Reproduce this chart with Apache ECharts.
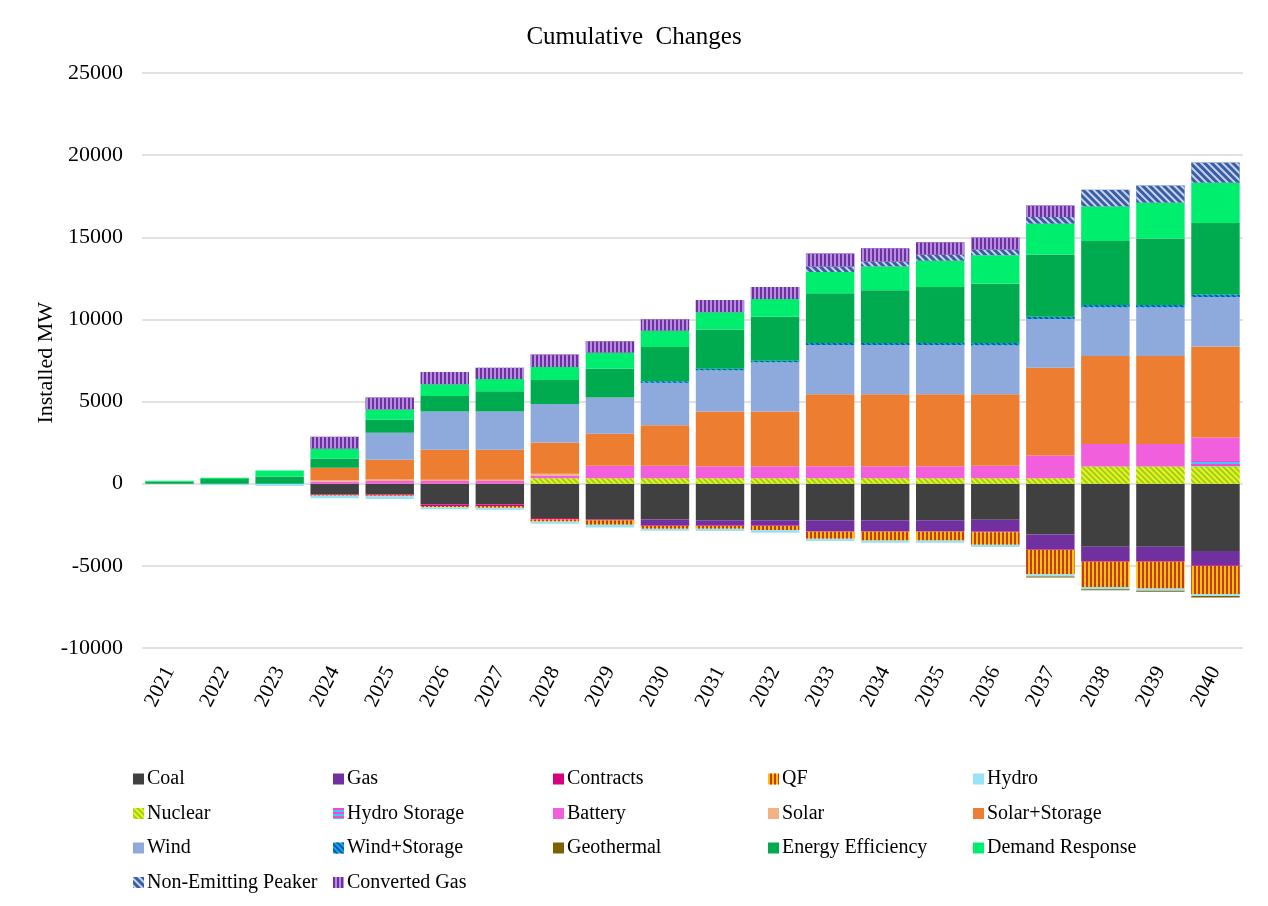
<!DOCTYPE html>
<html><head><meta charset="utf-8">
<script src="https://cdn.jsdelivr.net/npm/echarts@6/dist/echarts.min.js"></script>
<style>html,body{margin:0;padding:0;background:#fff}#c{width:1268px;height:906px}</style>
</head><body><div id="c"></div>
<script>
const years = ['2021','2022','2023','2024','2025','2026','2027','2028','2029','2030','2031','2032','2033','2034','2035','2036','2037','2038','2039','2040'];
const yTicks = [-10000, 25000, 5000];
const coal = [0,0,0,-650,-650,-1270,-1270,-2080,-2180,-2180,-2220,-2220,-2220,-2220,-2220,-2200,-3090,-3840,-3840,-4100];
const gas = [0,0,0,0,0,0,0,0,0,-360,-320,-320,-670,-670,-670,-710,-910,-870,-870,-870];
const contracts = [0,0,0,-50,-60,-80,-80,-100,-60,-40,-40,-40,-40,-40,-40,-40,-40,-40,-40,-40];
const qf = [0,0,0,-40,-60,-80,-120,-120,-260,-160,-160,-240,-420,-520,-520,-760,-1470,-1530,-1630,-1720];
const hydro = [0,-100,-140,-140,-160,-120,-120,-140,-160,-120,-140,-160,-140,-140,-140,-140,-140,-140,-140,-100];
const nuclear = [0,0,0,0,0,0,0,330,330,330,340,340,340,340,340,330,340,1050,1050,1050];
const hydroStorage = [0,0,0,0,0,0,0,0,0,0,0,0,0,0,0,0,0,0,0,340];
const battery = [0,0,0,140,160,160,160,160,770,770,730,730,730,730,730,770,1370,1370,1370,1430];
const solar = [0,0,0,80,100,80,80,120,0,0,0,0,0,0,0,0,0,0,0,0];
const solarStorage = [0,0,0,750,1200,1835,1835,1895,1935,2460,3330,3330,4380,4380,4380,4340,5350,5350,5350,5535];
const wind = [0,0,0,0,1640,2320,2320,2340,2220,2580,2500,2990,2990,2990,2990,2990,2970,2970,2970,3010];
const windStorage = [0,0,0,0,0,0,0,0,0,100,100,100,120,120,120,140,140,140,140,160];
const geothermal = [0,0,0,0,0,0,0,0,0,0,0,0,0,0,0,0,-60,-60,-60,-100];
const energyEfficiency = [140,285,445,570,810,950,1230,1470,1750,2080,2380,2670,3030,3210,3410,3600,3780,3900,4040,4350];
const demandResponse = [40,80,365,590,610,706,746,786,968,988,1050,1090,1290,1450,1600,1740,1880,2100,2180,2450];
const nonEmittingPeaker = [0,0,0,0,0,0,0,0,0,0,0,0,343,303,364,343,404,1010,1050,1230];
const convertedGas = [0,0,0,730,730,746,685,766,706,706,747,727,788,808,768,727,707,0,0,0];

const FONT = 'Liberation Serif';
function stripes(color, rot, on, off){
  return {symbol:'rect', symbolSize:1, dashArrayX:[1,0], dashArrayY:[on,off], rotation:rot, color:color};
}
const seriesDefs = [
  ['Coal', coal, '#404040'],
  ['Gas', gas, '#7030A0'],
  ['Contracts', contracts, '#D9007E'],
  ['QF', qf, '#FFC000', stripes('#C0392B', Math.PI/2, 2, 2)],
  ['Hydro', hydro, '#99E3FA'],
  ['Nuclear', nuclear, '#EEF50A', stripes('#9ACD32', Math.PI/4, 2, 2)],
  ['Hydro Storage', hydroStorage, '#33CCFF', stripes('#FF45C8', 0, 2, 2)],
  ['Battery', battery, '#F25FDC'],
  ['Solar', solar, '#F4B183'],
  ['Solar+Storage', solarStorage, '#ED7D31'],
  ['Wind', wind, '#8EA9DB'],
  ['Wind+Storage', windStorage, '#00B0F0', stripes('#1F4E9A', Math.PI/4, 2, 2)],
  ['Geothermal', geothermal, '#7F6000'],
  ['Energy Efficiency', energyEfficiency, '#00AA4F'],
  ['Demand Response', demandResponse, '#00EE6E'],
  ['Non-Emitting Peaker', nonEmittingPeaker, '#3A5EA6', stripes('#C9D4EC', Math.PI/4, 1.2, 2.3)],
  ['Converted Gas', convertedGas, '#7030A0', stripes('#B48EE0', Math.PI/2, 2, 2)]
];
const series = seriesDefs.map(d => ({
  name: d[0], type: 'bar', stack: 'all', data: d[1], barCategoryGap: '12%',
  itemStyle: Object.assign({color: d[2]}, d[3] ? {decal: d[3]} : {}),
  emphasis: {disabled: true}
}));

const legendCols = [
  {x:133, names:['Coal','Nuclear','Wind','Non-Emitting Peaker']},
  {x:333, names:['Gas','Hydro Storage','Wind+Storage','Converted Gas']},
  {x:553, names:['Contracts','Battery','Geothermal']},
  {x:768, names:['QF','Solar','Energy Efficiency']},
  {x:973, names:['Hydro','Solar+Storage','Demand Response']}
];
const legends = legendCols.map(c => ({
  orient:'vertical', left:c.x, top:768, data:c.names, icon:'rect',
  itemWidth:11, itemHeight:11, itemGap:12.5, selectedMode:false, padding:0,
  textStyle:{fontFamily:FONT, fontSize:20, color:'#000', lineHeight:22, padding:[0,0,0,-2]}
}));

const chart = echarts.init(document.getElementById('c'), null, {renderer:'canvas'});
chart.setOption({
  animation:false,
  backgroundColor:'#fff',
  title:{text:'Cumulative  Changes', left:'center', top:20,
    textStyle:{fontFamily:FONT, fontSize:25, fontWeight:'normal', color:'#000'}},
  legend: legends,
  grid:{left:142, right:25, top:73, bottom:258},
  xAxis:{type:'category', data:years, axisLine:{show:false}, axisTick:{show:false},
    axisLabel:{rotate:63, fontFamily:FONT, fontSize:21, color:'#000', margin:20}},
  yAxis:{type:'value', min:yTicks[0], max:yTicks[1], interval:yTicks[2],
    axisLine:{show:false}, axisTick:{show:false},
    splitLine:{lineStyle:{color:'#D9D9D9', width:1.5}},
    axisLabel:{fontFamily:FONT, fontSize:22, color:'#000', margin:19, formatter: v => String(v)}},
  graphic:[{type:'text', left:35, top:302, rotation:Math.PI/2,
    style:{text:'Installed MW', font:'22px "Liberation Serif"', fill:'#000'}}],
  series: series
});
</script></body></html>
